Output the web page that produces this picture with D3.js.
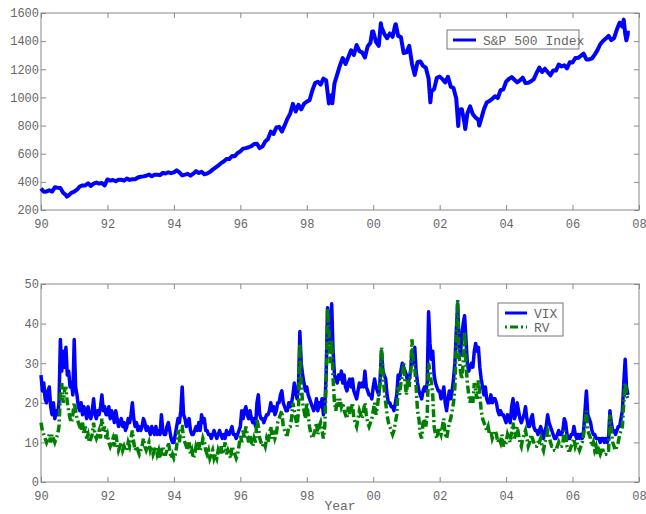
<!DOCTYPE html>
<html><head><meta charset="utf-8">
<script src="https://cdn.jsdelivr.net/npm/d3@7"></script>
<style>
html,body{margin:0;padding:0;background:#fff;}
svg{display:block;}
</style></head>
<body>
<svg id="chart" width="646" height="514"></svg>
<script>
// ---- data ----
const xTicks = [1990, 1992, 1994, 1996, 1998, 2000, 2002, 2004, 2006, 2008];
const spTicks = [200, 400, 600, 800, 1000, 1200, 1400, 1600];
const volTicks = [0, 10, 20, 30, 40, 50];
const spLabel = "S&P 500 Index";
const volLabels = ["VIX", "RV"];
const xLabel = "Year";

// S&P 500 month-end levels, first value = start of 1990, monthly steps
const spMonthly = [353,
 329,332,340,331,361,358,356,323,306,304,322,330,
 344,367,375,375,390,371,388,395,388,392,375,417,
 409,413,404,415,415,408,424,414,418,419,431,436,
 439,443,452,440,450,451,448,464,459,468,462,467,
 482,467,446,451,457,444,458,476,463,472,454,459,
 470,487,501,515,533,545,562,562,584,582,605,616,
 636,640,646,654,669,671,640,652,687,705,757,741,
 786,791,757,801,848,885,954,900,947,915,955,970,
 980,1049,1102,1112,1091,1134,1121,957,1017,1099,1164,1229,
 1280,1238,1286,1335,1302,1373,1329,1320,1283,1363,1389,1469,
 1395,1366,1499,1452,1421,1455,1431,1518,1437,1429,1315,1320,
 1366,1240,1160,1250,1256,1224,1211,1134,1041,1060,1140,1148,
 1130,1107,1147,1077,1067,990,912,916,815,886,936,880,
 856,841,848,917,964,975,990,1008,996,1051,1058,1112,
 1131,1145,1126,1107,1121,1141,1102,1104,1115,1130,1174,1212,
 1181,1204,1181,1157,1192,1191,1234,1220,1229,1207,1250,1248,
 1280,1281,1295,1311,1270,1270,1277,1304,1336,1378,1401,1418,
 1438,1407,1421,1482,1531,1503,1455,1474];
// intra-month extremes [year, level]
const spExtremes = [[1990.78,295],[1998.77,959],[1999.97,1469],[2000.23,1527],[2000.68,1520],
 [2001.72,965],[2002.56,797],[2002.77,776],[2003.19,800],[2007.54,1553],[2007.62,1406],[2007.66,1445]];

// VIX and realized volatility, half-month steps from 1990
const vix = [
 27,23,25,21,20,23,24,19,17,20,16,18,17,20,36,28,33,29,34,27,28,24,25,22,
 36,24,22,19,18,20,17,19,18,16,19,17,16,18,21,17,16,18,17,19,22,18,19,17,
 17,19,16,18,17,15,18,16,14,15,16,14,15,13,14,16,15,17,20,16,14,15,13,14,
 13,14,16,15,13,14,13,12,14,13,12,14,12,13,12,17,13,12,12,14,15,13,11,10,
 10,12,14,16,15,18,24,17,16,14,15,16,13,12,12,13,14,13,15,13,17,15,16,13,
 13,12,12,11,12,13,12,11,12,13,12,11,12,11,13,12,12,13,14,12,12,11,12,13,
 14,18,16,18,19,17,16,18,16,15,16,14,20,22,17,16,16,15,16,17,17,18,20,18,
 19,17,18,20,20,22,23,20,19,18,18,20,19,20,22,25,23,21,24,38,30,27,25,23,
 24,22,21,20,19,18,19,21,18,20,19,21,17,19,27,44,40,35,45,33,27,26,25,27,
 26,28,25,27,24,23,25,26,24,26,23,22,21,23,25,24,25,24,28,24,23,22,22,21,
 24,26,24,23,22,26,33,28,27,26,22,20,20,19,19,18,20,22,27,26,28,30,29,28,
 27,25,26,28,33,30,34,28,25,23,22,21,23,24,23,25,43,35,31,33,27,25,24,23,
 23,21,22,24,20,18,21,23,21,23,26,30,38,45,35,32,37,40,42,36,30,28,29,30,
 29,33,35,33,34,29,26,24,22,24,21,20,20,22,20,21,21,20,18,17,18,17,17,16,
 15,17,16,15,19,21,16,17,20,18,16,15,16,17,19,16,14,14,16,17,14,13,13,12,
 13,14,12,11,13,14,17,15,14,13,12,11,11,12,13,12,12,13,16,15,12,11,11,12,
 12,14,12,11,12,11,12,11,13,18,23,17,16,15,13,12,12,11,11,11,10,11,11,10,
 11,10,11,18,15,13,13,12,13,14,14,16,18,25,31,24,22];
const rv = [
 15,13,12,11,10,11,12,10,12,11,10,11,12,14,22,25,20,23,24,20,18,16,15,17,
 20,18,16,15,14,13,15,12,14,11,12,10,11,12,15,12,11,12,13,11,16,13,14,11,
 12,10,9,10,11,9,12,10,8,9,10,8,9,8,8,10,9,11,13,10,8,9,8,7,
 8,9,11,9,8,9,10,8,9,7,8,9,7,8,6,8,9,7,7,8,10,8,6,7,
 6,7,9,13,10,14,14,11,10,9,8,10,7,8,6,7,9,8,10,8,9,11,10,8,
 7,8,6,7,8,6,7,6,8,7,9,7,8,10,7,8,7,6,9,8,7,6,7,9,
 12,10,13,11,14,12,10,12,10,9,11,10,16,14,11,10,9,10,9,11,10,12,14,11,
 13,11,12,15,16,17,18,14,13,12,12,14,14,16,20,18,16,14,18,35,25,20,18,16,
 20,17,14,12,11,12,13,15,12,14,15,13,11,14,25,44,38,30,36,26,20,18,21,19,
 21,19,20,18,17,16,19,17,18,20,16,15,14,16,18,17,16,18,20,17,15,14,15,16,
 18,20,17,19,22,25,34,28,23,20,17,15,14,13,12,13,15,17,24,22,25,27,30,25,
 22,26,24,28,36,30,29,24,18,16,12,11,15,16,14,17,30,28,25,22,14,12,11,13,
 13,12,14,16,12,11,13,15,16,18,20,24,35,46,32,28,26,30,38,30,25,22,20,22,
 20,25,23,21,26,22,18,16,15,14,13,14,12,13,11,12,13,12,10,11,10,12,9,10,
 10,12,11,10,13,15,11,12,14,12,10,9,11,12,13,11,9,10,12,11,10,9,9,10,
 10,11,9,8,10,11,13,12,10,9,9,8,8,9,10,9,9,10,13,12,9,8,8,9,
 10,11,9,10,9,8,9,10,12,15,18,13,12,11,9,10,8,9,7,8,7,8,8,7,
 7,8,8,17,13,10,9,8,9,10,12,13,14,20,25,22,21];

// ---- build ----
const spData = spMonthly.map((v,i)=>[1990 + i/12, v]).concat(spExtremes).sort((a,b)=>a[0]-b[0]);
const vixData = vix.map((v,i)=>[1990 + i/24, v]);
const rvData = rv.map((v,i)=>[1990 + i/24, v]);

const svg = d3.select("#chart");
const L = 41, R = 639;
const x = d3.scaleLinear().domain([1990, 2008]).range([L, R]);
const fmtX = d => String(d % 100).padStart(2, "0");
const fmtY = d3.format("d");
const FONT = "'Liberation Mono', 'DejaVu Sans Mono', monospace";
const AX = "#888";
const TXT = "#666";

function panel(top, bottom, yDomain, yTicks) {
  const y = d3.scaleLinear().domain(yDomain).range([bottom, top]);
  const g = svg.append("g");
  g.append("rect").attr("x", L).attr("y", top).attr("width", R - L).attr("height", bottom - top)
    .attr("fill", "#fff").attr("stroke", AX).attr("stroke-width", 1);
  const styleAxis = (sel, labels) => {
    sel.select(".domain").remove();
    sel.selectAll(".tick line").attr("stroke", AX);
    sel.selectAll(".tick text").attr("fill", TXT).style("font-family", FONT).style("font-size", "12px");
    if (!labels) sel.selectAll(".tick text").remove();
  };
  g.append("g").attr("transform", `translate(0,${bottom})`)
    .call(d3.axisBottom(x).tickValues(xTicks).tickFormat(fmtX).tickSizeInner(-5).tickSizeOuter(0).tickPadding(9))
    .call(s => styleAxis(s, true));
  g.append("g").attr("transform", `translate(0,${top})`)
    .call(d3.axisTop(x).tickValues(xTicks).tickSizeInner(-5).tickSizeOuter(0))
    .call(s => styleAxis(s, false));
  g.append("g").attr("transform", `translate(${L},0)`)
    .call(d3.axisLeft(y).tickValues(yTicks).tickFormat(fmtY).tickSizeInner(-5).tickSizeOuter(0).tickPadding(2))
    .call(s => styleAxis(s, true));
  g.append("g").attr("transform", `translate(${R},0)`)
    .call(d3.axisRight(y).tickValues(yTicks).tickSizeInner(-5).tickSizeOuter(0))
    .call(s => styleAxis(s, false));
  return {g, y};
}

// top panel
const p1 = panel(13, 210, [200, 1600], spTicks);
p1.g.append("path").datum(spData)
  .attr("d", d3.line().x(d => x(d[0])).y(d => p1.y(d[1])))
  .attr("fill", "none").attr("stroke", "#0000ff").attr("stroke-width", 4).attr("stroke-linejoin", "round");

// top legend
const lg1 = svg.append("g");
lg1.append("rect").attr("x", 447).attr("y", 30).attr("width", 132).attr("height", 19)
  .attr("fill", "#fff").attr("stroke", "#777");
lg1.append("line").attr("x1", 453).attr("x2", 476).attr("y1", 40).attr("y2", 40)
  .attr("stroke", "#0000ff").attr("stroke-width", 3);
lg1.append("text").attr("x", 483).attr("y", 44.5).text(spLabel)
  .attr("fill", "#666").style("font-family", FONT).style("font-size", "13px");

// bottom panel
const p2 = panel(284, 482, [0, 50], volTicks);
const vline = d3.line().x(d => x(d[0])).y(d => p2.y(d[1]));
p2.g.append("path").datum(vixData).attr("d", vline)
  .attr("fill", "none").attr("stroke", "#0000ff").attr("stroke-width", 3.5).attr("stroke-linejoin", "round");
p2.g.append("path").datum(rvData).attr("d", vline)
  .attr("fill", "none").attr("stroke", "#008000").attr("stroke-width", 3.5)
  .attr("stroke-dasharray", "8,3,2,3");

// bottom legend
const lg2 = svg.append("g");
lg2.append("rect").attr("x", 498).attr("y", 303).attr("width", 65).attr("height", 33)
  .attr("fill", "#fff").attr("stroke", "#777");
lg2.append("line").attr("x1", 505).attr("x2", 527).attr("y1", 313).attr("y2", 313)
  .attr("stroke", "#0000ff").attr("stroke-width", 3);
lg2.append("line").attr("x1", 505).attr("x2", 527).attr("y1", 327).attr("y2", 327)
  .attr("stroke", "#008000").attr("stroke-width", 3).attr("stroke-dasharray", "2,3,8,3");
lg2.selectAll("text.lab").data(volLabels).enter().append("text")
  .attr("x", 534).attr("y", (d,i) => 317.5 + i*14).text(d => d)
  .attr("fill", "#666").style("font-family", FONT).style("font-size", "13px");

// x label
svg.append("text").attr("x", (L + R) / 2).attr("y", 510).attr("text-anchor", "middle")
  .text(xLabel).attr("fill", "#666").style("font-family", FONT).style("font-size", "13px");
</script>
</body></html>
